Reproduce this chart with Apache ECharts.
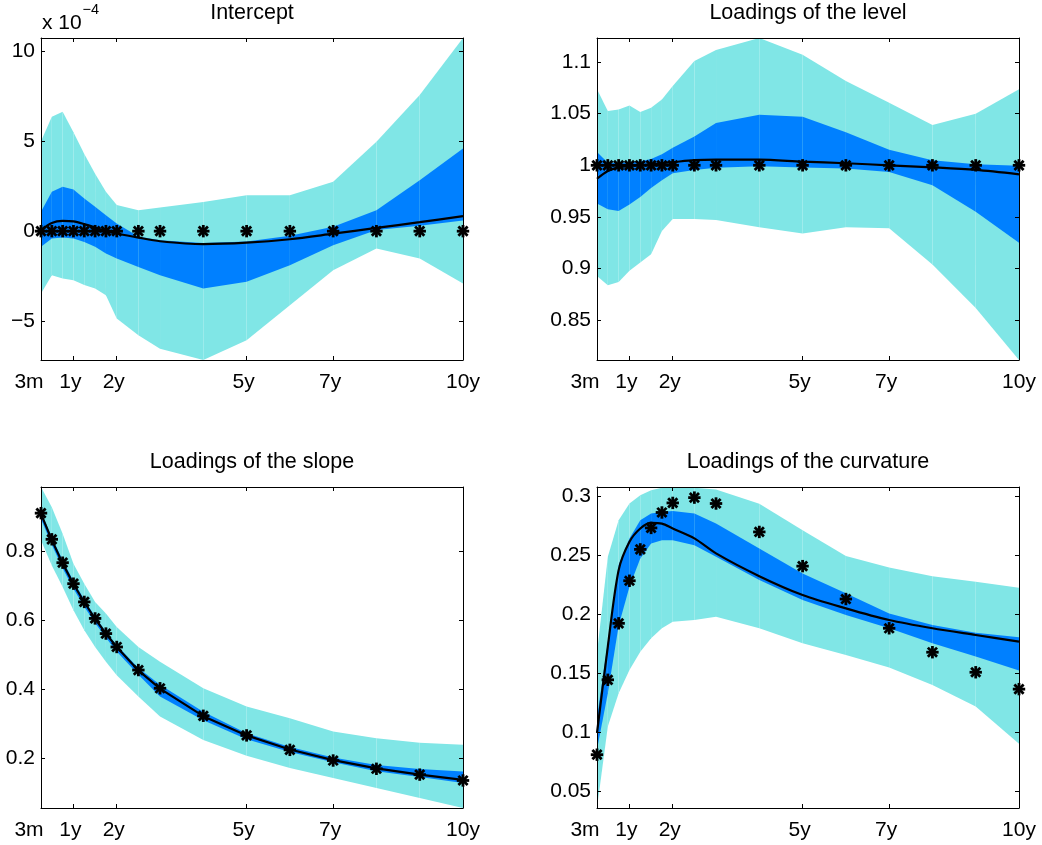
<!DOCTYPE html>
<html>
<head>
<meta charset="utf-8">
<script src="https://cdn.jsdelivr.net/npm/echarts@6/dist/echarts.min.js"></script>
<style>
  html, body { margin: 0; padding: 0; background: #fff; }
  #chart { width: 1042px; height: 845px; }
</style>
</head>
<body>
<div id="chart"></div>
<script>
// maturities in months
var maturities = [3, 6, 9, 12, 15, 18, 21, 24, 30, 36, 48, 60, 72, 84, 96, 108, 120];
var tickMonths = [3, 12, 24, 60, 84, 120];
var tickLabels = ['3m', '1y', '2y', '5y', '7y', '10y'];
var titles = ['Intercept', 'Loadings of the level', 'Loadings of the slope', 'Loadings of the curvature'];

// intercept, in units of 1e-4
var interceptObs = [0, 0, 0, 0, 0, 0, 0, 0, 0, 0, 0, 0, 0, 0, 0, 0, 0];
var interceptMean = [0.06, 0.46, 0.57, 0.54, 0.39, 0.2, 0.0, -0.13, -0.36, -0.56, -0.72, -0.64, -0.45, -0.14, 0.18, 0.5, 0.84];
var interceptInnerLo = [-0.87, -0.41, -0.35, -0.41, -0.6, -0.87, -1.24, -1.52, -1.99, -2.45, -3.19, -2.82, -1.89, -0.78, 0.06, 0.3, 0.6];
var interceptInnerHi = [1.08, 2.19, 2.47, 2.32, 1.82, 1.36, 0.89, 0.43, -0.3, -0.5, -0.66, -0.58, -0.25, 0.24, 1.17, 2.84, 4.6];
var interceptOuterLo = [-3.47, -2.45, -2.64, -2.73, -3.0, -3.19, -3.57, -4.86, -5.79, -6.54, -7.17, -6.07, -4.12, -2.17, -0.96, -1.52, -2.91];
var interceptOuterHi = [5.0, 6.37, 6.65, 5.5, 4.3, 3.2, 2.2, 1.45, 1.17, 1.32, 1.63, 2.0, 2.0, 2.75, 4.97, 7.58, 10.75];

// level
var levelObs = [1, 1, 1, 1, 1, 1, 1, 1, 1, 1, 1, 1, 1, 1, 1, 1, 1];
var levelMean = [0.987, 0.9945, 0.998, 0.9995, 1.0, 1.001, 1.002, 1.003, 1.005, 1.0055, 1.0055, 1.0035, 1.002, 1.0, 0.998, 0.9955, 0.9913];
var levelInnerLo = [0.963, 0.9575, 0.9558, 0.962, 0.9694, 0.978, 0.9855, 0.9923, 0.9955, 0.9977, 0.999, 0.998, 0.997, 0.9935, 0.9807, 0.955, 0.925];
var levelInnerHi = [1.013, 1.0026, 1.0026, 1.003, 1.004, 1.006, 1.0106, 1.017, 1.028, 1.041, 1.049, 1.047, 1.032, 1.015, 1.005, 1.001, 0.9995];
var levelOuterLo = [0.893, 0.884, 0.887, 0.898, 0.906, 0.914, 0.9365, 0.948, 0.948, 0.947, 0.940, 0.934, 0.940, 0.939, 0.904, 0.862, 0.8116];
var levelOuterHi = [1.0735, 1.0525, 1.054, 1.058, 1.0516, 1.0558, 1.0638, 1.0767, 1.1009, 1.1115, 1.1232, 1.107, 1.0815, 1.0606, 1.039, 1.05, 1.0735];

// slope
var slopeObs = [0.912, 0.836, 0.768, 0.707, 0.654, 0.606, 0.562, 0.523, 0.456, 0.403, 0.323, 0.266, 0.224, 0.193, 0.169, 0.152, 0.135];
var slopeMean = [0.910, 0.834, 0.766, 0.706, 0.653, 0.605, 0.562, 0.523, 0.455, 0.402, 0.322, 0.266, 0.225, 0.194, 0.170, 0.152, 0.137];
var slopeInnerLo = [0.895, 0.820, 0.752, 0.692, 0.640, 0.593, 0.550, 0.510, 0.442, 0.379, 0.310, 0.255, 0.218, 0.188, 0.162, 0.145, 0.128];
var slopeInnerHi = [0.915, 0.842, 0.775, 0.714, 0.660, 0.611, 0.567, 0.528, 0.462, 0.413, 0.335, 0.272, 0.232, 0.202, 0.180, 0.168, 0.161];
var slopeOuterLo = [0.833, 0.760, 0.697, 0.630, 0.572, 0.523, 0.480, 0.441, 0.379, 0.321, 0.253, 0.207, 0.171, 0.142, 0.113, 0.084, 0.055];
var slopeOuterHi = [0.988, 0.929, 0.852, 0.765, 0.707, 0.654, 0.620, 0.581, 0.523, 0.480, 0.403, 0.350, 0.316, 0.277, 0.258, 0.245, 0.239];

// curvature
var curvObs = [0.0806, 0.1441, 0.192, 0.2281, 0.2547, 0.2729, 0.286, 0.2941, 0.2986, 0.2936, 0.2695, 0.2405, 0.2126, 0.1878, 0.1675, 0.1505, 0.1362];
var curvMean = [0.099, 0.1723, 0.2371, 0.2611, 0.2724, 0.2772, 0.2766, 0.2724, 0.264, 0.2513, 0.232, 0.216, 0.2047, 0.1948, 0.1878, 0.1821, 0.1765];
var curvInnerLo = [0.085, 0.1328, 0.19, 0.223, 0.247, 0.2597, 0.2625, 0.2625, 0.2583, 0.2484, 0.2287, 0.2117, 0.199, 0.1878, 0.1751, 0.1638, 0.152];
var curvInnerHi = [0.112, 0.176, 0.2414, 0.264, 0.2794, 0.2851, 0.2865, 0.2873, 0.2851, 0.2766, 0.2554, 0.2343, 0.2174, 0.2004, 0.1906, 0.1841, 0.1801];
var curvOuterLo = [0.0355, 0.1046, 0.1328, 0.1525, 0.168, 0.1793, 0.1878, 0.1934, 0.1948, 0.1976, 0.1878, 0.1751, 0.1652, 0.1545, 0.1398, 0.1215, 0.0899];
var curvOuterHi = [0.1667, 0.2484, 0.2794, 0.2936, 0.3006, 0.3048, 0.307, 0.3076, 0.307, 0.3055, 0.2935, 0.271, 0.249, 0.2394, 0.232, 0.2272, 0.2222];

var panels = [
  {obs: interceptObs, mean: interceptMean, inLo: interceptInnerLo, inHi: interceptInnerHi, outLo: interceptOuterLo, outHi: interceptOuterHi},
  {obs: levelObs, mean: levelMean, inLo: levelInnerLo, inHi: levelInnerHi, outLo: levelOuterLo, outHi: levelOuterHi},
  {obs: slopeObs, mean: slopeMean, inLo: slopeInnerLo, inHi: slopeInnerHi, outLo: slopeOuterLo, outHi: slopeOuterHi},
  {obs: curvObs, mean: curvMean, inLo: curvInnerLo, inHi: curvInnerHi, outLo: curvOuterLo, outHi: curvOuterHi}
];

// layout (pixels) and y ranges of the four axes
var grids = [
  {left: 41, top: 38, width: 422, height: 322},
  {left: 597, top: 38, width: 422, height: 322},
  {left: 41, top: 487, width: 422, height: 321},
  {left: 597, top: 487, width: 422, height: 321}
];
var yRanges = [
  {min: -7.17, max: 10.75, step: 5},
  {min: 0.8116, max: 1.1232, step: 0.05},
  {min: 0.055, max: 0.988, step: 0.2},
  {min: 0.0354, max: 0.3076, step: 0.05}
];

var FONT = 'Liberation Sans, Arial, Helvetica, sans-serif';
var CYAN = '#80E6E6';
var BLUE = '#0080FF';
var TICK_SIZE = 21;

var myChart = echarts.init(document.getElementById('chart'));

function xLabel(v) {
  var i = tickMonths.indexOf(v);
  if (i < 0) return '';
  if (i === 0) return '{m|' + tickLabels[i] + '}';
  if (i === tickLabels.length - 1) return '{e|' + tickLabels[i] + '}';
  return '{a|' + tickLabels[i] + '}';
}

function yLabel(v) {
  return String(parseFloat(v.toFixed(6))).replace('-', '\u2212');
}

function makeX(gi, pos) {
  return {
    type: 'value', gridIndex: gi, position: pos, min: 3, max: 120, z: 10,
    axisLine: {show: true, onZero: false, lineStyle: {color: '#000', width: 1}},
    axisTick: {show: true, inside: true, length: 4, customValues: tickMonths, lineStyle: {color: '#000', width: 1}},
    axisLabel: {
      show: pos === 'bottom', customValues: tickMonths, formatter: xLabel, margin: 12,
      color: '#000', fontSize: TICK_SIZE, fontFamily: FONT,
      rich: {
        m: {fontSize: TICK_SIZE, fontFamily: FONT, color: '#000', padding: [0, 24, 0, 0]},
        a: {fontSize: TICK_SIZE, fontFamily: FONT, color: '#000', padding: [0, 6, 0, 0]},
        e: {fontSize: TICK_SIZE, fontFamily: FONT, color: '#000'}
      }
    },
    splitLine: {show: false}
  };
}

function makeY(gi, pos) {
  var r = yRanges[gi];
  return {
    type: 'value', gridIndex: gi, position: pos, min: r.min, max: r.max, z: 10,
    minInterval: r.step, maxInterval: r.step,
    axisLine: {show: true, onZero: false, lineStyle: {color: '#000', width: 1}},
    axisTick: {show: true, inside: true, length: 4, lineStyle: {color: '#000', width: 1}},
    axisLabel: {
      show: pos === 'left', showMinLabel: false, showMaxLabel: false, formatter: yLabel,
      margin: 6, color: '#000', fontSize: TICK_SIZE, fontFamily: FONT
    },
    splitLine: {show: false}
  };
}

function bandSeries(gi, lo, hi, color, z) {
  var segs = [];
  for (var i = 0; i < maturities.length - 1; i++) {
    segs.push([maturities[i], lo[i], hi[i], maturities[i + 1], lo[i + 1], hi[i + 1]]);
  }
  return {
    type: 'custom', xAxisIndex: gi * 2, yAxisIndex: gi * 2, z: z, silent: true,
    encode: {x: [0, 3], y: [1, 2, 4, 5]},
    data: segs,
    renderItem: function (params, api) {
      var a = api.coord([api.value(0), api.value(1)]);
      var b = api.coord([api.value(3), api.value(4)]);
      var c = api.coord([api.value(3), api.value(5)]);
      var d = api.coord([api.value(0), api.value(2)]);
      return {type: 'polygon', shape: {points: [a, b, c, d]}, style: {fill: color}};
    }
  };
}

function starSeries(gi, vals) {
  return {
    type: 'custom', xAxisIndex: gi * 2, yAxisIndex: gi * 2, z: 5, silent: true,
    data: maturities.map(function (m, i) { return [m, vals[i]]; }),
    renderItem: function (params, api) {
      var p = api.coord([api.value(0), api.value(1)]);
      var r = 6.2, d = 4.6;
      var spokes = [[0, -r, 0, r], [-r, 0, r, 0], [-d, -d, d, d], [-d, d, d, -d]];
      return {
        type: 'group',
        children: spokes.map(function (s) {
          return {
            type: 'line',
            shape: {x1: p[0] + s[0], y1: p[1] + s[1], x2: p[0] + s[2], y2: p[1] + s[3]},
            style: {stroke: '#000', lineWidth: 2.8}
          };
        })
      };
    }
  };
}

function lineSeries(gi, vals, smooth) {
  return {
    type: 'line', xAxisIndex: gi * 2, yAxisIndex: gi * 2, z: 4, silent: true,
    data: maturities.map(function (m, i) { return [m, vals[i]]; }),
    showSymbol: false, smooth: smooth,
    lineStyle: {color: '#000', width: 2.2}
  };
}

var xAxes = [], yAxes = [], series = [], graphics = [];
grids.forEach(function (g, gi) {
  xAxes.push(makeX(gi, 'bottom'), makeX(gi, 'top'));
  yAxes.push(makeY(gi, 'left'), makeY(gi, 'right'));
  var p = panels[gi];
  series.push(bandSeries(gi, p.outLo, p.outHi, CYAN, 1));
  series.push(bandSeries(gi, p.inLo, p.inHi, BLUE, 2));
  series.push(lineSeries(gi, p.mean, gi === 2 ? false : 0.3));
  series.push(starSeries(gi, p.obs));
  graphics.push({
    type: 'text', x: g.left + g.width / 2, y: g.top - 24.5, z: 20,
    style: {text: titles[gi], font: '21.5px ' + FONT, fill: '#000', textAlign: 'center', textVerticalAlign: 'middle'}
  });
});

// exponent of the intercept axis
graphics.push({
  type: 'text', x: 42, y: 23, z: 20,
  style: {text: 'x 10', font: '21px ' + FONT, fill: '#000', textAlign: 'left', textVerticalAlign: 'middle'}
});
graphics.push({
  type: 'text', x: 82.5, y: 10, z: 20,
  style: {text: '\u22124', font: '14.5px ' + FONT, fill: '#000', textAlign: 'left', textVerticalAlign: 'middle'}
});

var option = {
  animation: false,
  backgroundColor: '#fff',
  grid: grids.map(function (g) {
    return {left: g.left, top: g.top, width: g.width, height: g.height, containLabel: false, outerBoundsMode: 'none', show: false};
  }),
  xAxis: xAxes,
  yAxis: yAxes,
  series: series,
  graphic: graphics
};

myChart.setOption(option);
</script>
</body>
</html>
